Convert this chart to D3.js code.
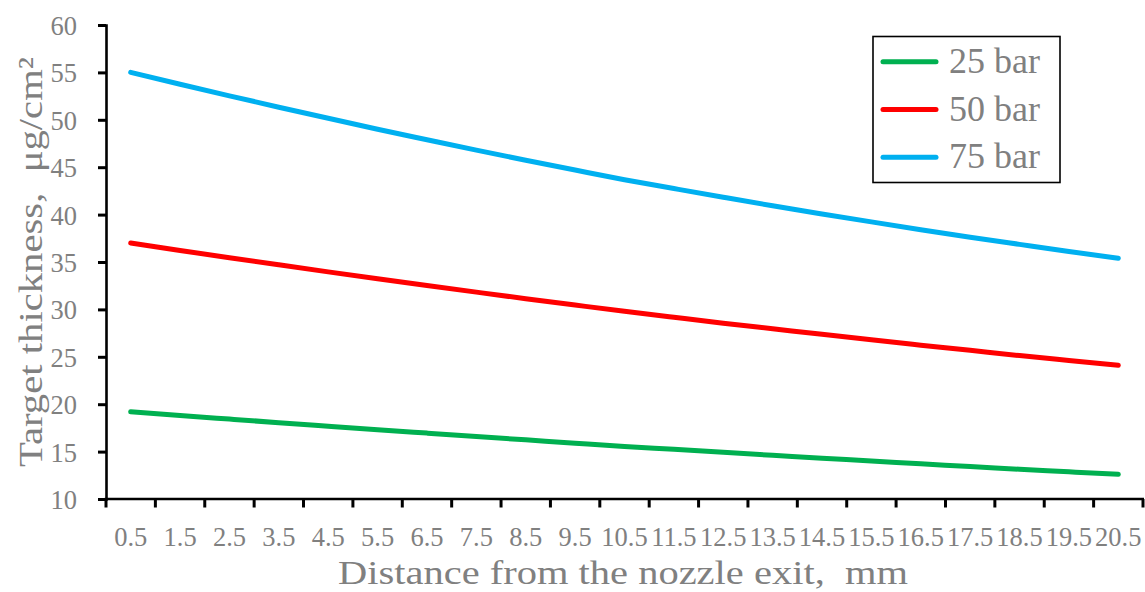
<!DOCTYPE html>
<html>
<head>
<meta charset="utf-8">
<script src="https://cdn.jsdelivr.net/npm/d3@7"></script>
<style>
  html, body { margin: 0; padding: 0; background: #fff; }
  svg { display: block; }
  text { font-family: "Liberation Serif", "DejaVu Serif", serif; fill: #808080; }
</style>
</head>
<body>
<svg id="chart" width="1145" height="592"></svg>
<script>
// Distance from the nozzle exit (mm) — category axis
const distances = ["0.5","1.5","2.5","3.5","4.5","5.5","6.5","7.5","8.5","9.5","10.5",
                   "11.5","12.5","13.5","14.5","15.5","16.5","17.5","18.5","19.5","20.5"];

// Target thickness (µg/cm²) for each backing pressure
const bar25 = [19.20,18.81,18.43,18.05,17.68,17.31,16.95,16.59,16.24,15.89,15.55,
               15.24,14.92,14.61,14.30,14.01,13.71,13.43,13.14,12.87,12.60];
const bar50 = [37.00,36.22,35.45,34.70,33.96,33.23,32.52,31.82,31.13,30.46,29.80,
               29.17,28.55,27.96,27.37,26.79,26.23,25.68,25.13,24.61,24.10];
const bar75 = [55.00,53.75,52.53,51.33,50.16,49.01,47.90,46.80,45.74,44.70,43.68,
               42.75,41.83,40.93,40.07,39.23,38.41,37.62,36.86,36.11,35.40];

const seriesNames  = ["25 bar","50 bar","75 bar"];
const seriesColors = ["#00b050","#ff0000","#00b0f0"];
const yTicks = [10,15,20,25,30,35,40,45,50,55,60];

const series = [bar25, bar50, bar75].map((vals, i) => ({
  name: seriesNames[i], color: seriesColors[i],
  points: vals.map((v, j) => ({ d: distances[j], v }))
}));

const svg = d3.select("#chart");
const plotLeft = 106, plotRight = 1143, plotTop = 25, plotBottom = 499;

const x = d3.scaleBand().domain(distances).range([plotLeft, plotRight]).padding(0);
const y = d3.scaleLinear().domain([10, 60]).range([plotBottom, plotTop]);

// Y axis
const yAxis = svg.append("g")
  .attr("transform", `translate(${plotLeft},0)`)
  .call(d3.axisLeft(y).tickValues(yTicks).tickSize(8).tickPadding(0));
yAxis.select(".domain").attr("stroke", "#000").attr("stroke-width", 2.6);
yAxis.selectAll(".tick line").attr("stroke", "#000").attr("stroke-width", 3);
yAxis.selectAll(".tick text")
  .attr("x", -29).attr("dy", null).attr("y", 9.4)
  .attr("text-anchor", "end")
  .style("font-size", "26.5px").style("fill", "#808080");

// X axis: labels centred in each band, ticks on band boundaries
const xAxis = svg.append("g")
  .attr("transform", `translate(0,${plotBottom})`)
  .call(d3.axisBottom(x).tickSize(0).tickPadding(0));
xAxis.select(".domain").remove();
xAxis.selectAll(".tick text")
  .attr("y", 46.7).attr("dy", null)
  .style("font-size", "26.5px").style("fill", "#808080");

const boundaries = distances.map(d => x(d)).concat([x.range()[1]]);
svg.append("g").selectAll("line").data(boundaries).join("line")
  .attr("x1", d => d).attr("x2", d => d)
  .attr("y1", plotBottom).attr("y2", plotBottom + 8.5)
  .attr("stroke", "#000").attr("stroke-width", 3);
svg.append("line")
  .attr("x1", plotLeft - 1.3).attr("x2", plotRight + 1)
  .attr("y1", plotBottom).attr("y2", plotBottom)
  .attr("stroke", "#000").attr("stroke-width", 2.6);

// Curves
const line = d3.line()
  .x(p => x(p.d) + x.bandwidth() / 2)
  .y(p => y(p.v))
  .curve(d3.curveMonotoneX);

svg.append("g").selectAll("path").data(series).join("path")
  .attr("d", s => line(s.points))
  .attr("fill", "none")
  .attr("stroke", s => s.color)
  .attr("stroke-width", 5)
  .attr("stroke-linecap", "round")
  .attr("stroke-linejoin", "round");

// Axis titles
svg.append("text")
  .attr("x", 623).attr("y", 584)
  .attr("text-anchor", "middle")
  .attr("textLength", 570).attr("lengthAdjust", "spacingAndGlyphs")
  .style("white-space", "pre")
  .style("font-size", "33px")
  .text("Distance from the nozzle exit,  mm");

svg.append("text")
  .attr("transform", "translate(42,262) rotate(-90)")
  .attr("text-anchor", "middle")
  .attr("textLength", 410).attr("lengthAdjust", "spacingAndGlyphs")
  .style("white-space", "pre")
  .style("font-size", "34px")
  .text("Target thickness,  μg/cm²");

// Legend
const legend = svg.append("g");
legend.append("rect")
  .attr("x", 873).attr("y", 36.5).attr("width", 187).attr("height", 146)
  .attr("fill", "#fff").attr("stroke", "#000").attr("stroke-width", 1.6);
const rows = legend.selectAll("g.row").data(series).join("g")
  .attr("class", "row")
  .attr("transform", (s, i) => `translate(0,${61.7 + i * 47.8})`);
rows.append("line")
  .attr("x1", 883).attr("x2", 936)
  .attr("stroke", s => s.color).attr("stroke-width", 5)
  .attr("stroke-linecap", "round");
rows.append("text")
  .attr("x", 949).attr("y", 11)
  .style("font-size", "36px")
  .text(s => s.name);
</script>
</body>
</html>
